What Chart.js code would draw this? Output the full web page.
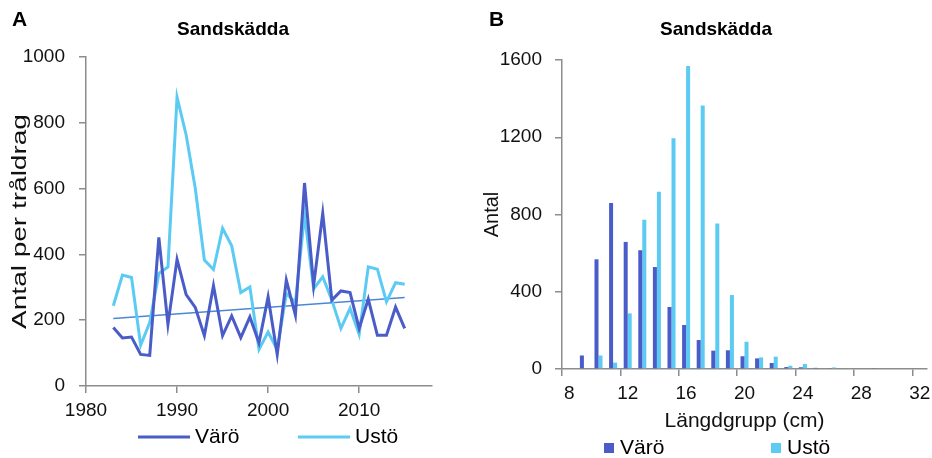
<!DOCTYPE html>
<html>
<head>
<meta charset="utf-8">
<script src="https://cdn.jsdelivr.net/npm/chart.js@4"></script>
<style>
  body { margin: 0; background: #fff; }
  .row { display: flex; width: 932px; height: 458px; }
</style>
</head>
<body>
<div class="row">
  <canvas id="trendChart" width="466" height="458"></canvas>
  <canvas id="lengthChart" width="466" height="458"></canvas>
</div>
<script>
// A: catch per haul by year
const years = [1983, 1984, 1985, 1986, 1987, 1988, 1989, 1990, 1991, 1992, 1993,
  1994, 1995, 1996, 1997, 1998, 1999, 2000, 2001, 2002, 2003, 2004, 2005,
  2006, 2007, 2008, 2009, 2010, 2011, 2012, 2013, 2014, 2015];
const varoCatch = [178, 146, 149, 96, 93, 452, 187, 385, 278, 239, 153,
  305, 153, 213, 147, 210, 131, 271, 96, 322, 215, 617, 306,
  525, 261, 289, 284, 175, 264, 154, 154, 240, 175];
const ustoCatch = [244, 337, 330, 124, 193, 342, 362, 878, 763, 601, 383,
  354, 479, 426, 284, 301, 111, 164, 111, 281, 254, 520, 295,
  332, 261, 175, 236, 157, 362, 355, 256, 314, 309];
const trendYears = [1983, 2015];
const trendValues = [205, 269];

// B: numbers per length group
const lengthGroups = ['8', '9', '10', '11', '12', '13', '14', '15', '16', '17', '18',
  '19', '20', '21', '22', '23', '24', '25', '26', '27', '28', '29', '30', '31', '32'];
const varoLengths = [0, 70, 568, 860, 658, 615, 528, 321, 228, 150, 95,
  97, 66, 55, 31, 10, 9, 6, 3, 0, 0, 3, 0, 0, 0];
const ustoLengths = [0, 0, 70, 33, 288, 773, 918, 1195, 1569, 1364, 754,
  383, 141, 60, 64, 17, 26, 0, 8, 3, 0, 0, 0, 0, 0];

const VARO = '#4a5cc7';
const USTO = '#5ccbf3';
const TREND = '#4a87d7';
const AXIS = '#8c8c8c';
const FONT = "'Liberation Sans', Arial, sans-serif";

Chart.defaults.font.family = FONT;
Chart.defaults.color = '#111';
Chart.defaults.animation = false;

// panel letter, title, optional wide y title and the legend row under the plot
const panelText = {
  id: 'panelText',
  afterDraw(chart, args, opts) {
    const ctx = chart.ctx;
    ctx.save();
    ctx.fillStyle = '#000';
    ctx.textBaseline = 'middle';
    ctx.textAlign = 'left';
    ctx.font = `bold 21px ${FONT}`;
    ctx.fillText(opts.letter, opts.letterX, 20);
    ctx.textAlign = 'center';
    ctx.font = `bold 19px ${FONT}`;
    ctx.fillText(opts.title, opts.titleX, 30);

    if (opts.yTitle) {
      const a = chart.chartArea;
      ctx.save();
      ctx.translate(opts.yTitle.x, (a.top + a.bottom) / 2);
      ctx.rotate(-Math.PI / 2);
      ctx.scale(opts.yTitle.stretch, 1);
      ctx.font = `20px ${FONT}`;
      ctx.fillStyle = '#111';
      ctx.fillText(opts.yTitle.text, 0, 0);
      ctx.restore();
    }

    ctx.textAlign = 'left';
    ctx.font = `21px ${FONT}`;
    opts.legend.forEach(item => {
      const ds = chart.data.datasets[item.dataset];
      const y = opts.legendY;
      if (opts.legendStyle === 'line') {
        ctx.strokeStyle = ds.borderColor;
        ctx.lineWidth = 3;
        ctx.beginPath();
        ctx.moveTo(item.x, y);
        ctx.lineTo(item.x + 52, y);
        ctx.stroke();
        ctx.fillStyle = '#000';
        ctx.fillText(ds.label, item.x + 57, y);
      } else {
        ctx.fillStyle = ds.backgroundColor;
        ctx.fillRect(item.x, y - 5, 10, 10);
        ctx.fillStyle = '#000';
        ctx.fillText(ds.label, item.x + 16, y);
      }
    });
    ctx.restore();
  }
};

function axisGrid() {
  return { drawOnChartArea: false, tickLength: 7, color: AXIS, lineWidth: 1.5 };
}

new Chart(document.getElementById('trendChart'), {
  type: 'line',
  data: {
    datasets: [
      {
        label: 'Värö',
        data: years.map((y, i) => ({ x: y, y: varoCatch[i] })),
        borderColor: VARO,
        borderWidth: 3,
        pointRadius: 0
      },
      {
        label: 'Ustö',
        data: years.map((y, i) => ({ x: y, y: ustoCatch[i] })),
        borderColor: USTO,
        borderWidth: 3,
        pointRadius: 0
      },
      {
        label: 'Trend',
        data: trendYears.map((y, i) => ({ x: y, y: trendValues[i] })),
        borderColor: TREND,
        borderWidth: 1.5,
        pointRadius: 0
      }
    ]
  },
  options: {
    responsive: false,
    layout: { padding: { top: 57, right: 34, left: 0, bottom: 0 } },
    plugins: {
      legend: { display: false },
      tooltip: { enabled: false },
      panelText: {
        letter: 'A', letterX: 12,
        title: 'Sandskädda', titleX: 233,
        yTitle: { text: 'Antal per tråldrag', x: 20, stretch: 1.4 },
        legendStyle: 'line', legendY: 437,
        legend: [{ dataset: 0, x: 138 }, { dataset: 1, x: 298 }]
      }
    },
    scales: {
      x: {
        type: 'linear',
        min: 1980,
        max: 2018,
        ticks: { stepSize: 10, padding: 6, font: { size: 19 }, color: '#111',
          callback: v => String(v) },
        afterBuildTicks: s => { s.ticks = s.ticks.filter(t => t.value % 10 === 0); },
        grid: axisGrid(),
        border: { color: AXIS, width: 1.5 },
        afterFit: s => { s.height = 72; s.paddingLeft = 0; s.paddingRight = 0; }
      },
      y: {
        min: 0,
        max: 1000,
        ticks: { stepSize: 200, padding: 14, font: { size: 19 }, color: '#111',
          callback: v => String(v) },
        grid: axisGrid(),
        border: { color: AXIS, width: 1.5 },
        afterFit: s => { s.width = 86; }
      }
    }
  },
  plugins: [panelText]
});

new Chart(document.getElementById('lengthChart'), {
  type: 'bar',
  data: {
    labels: lengthGroups,
    datasets: [
      { label: 'Värö', data: varoLengths, backgroundColor: VARO,
        barPercentage: 1, categoryPercentage: 0.55 },
      { label: 'Ustö', data: ustoLengths, backgroundColor: USTO,
        barPercentage: 1, categoryPercentage: 0.55 }
    ]
  },
  options: {
    responsive: false,
    layout: { padding: { top: 60, right: 5, left: 0, bottom: 0 } },
    plugins: {
      legend: { display: false },
      tooltip: { enabled: false },
      panelText: {
        letter: 'B', letterX: 23,
        title: 'Sandskädda', titleX: 250,
        legendStyle: 'box', legendY: 448,
        legend: [{ dataset: 0, x: 138 }, { dataset: 1, x: 305 }]
      }
    },
    scales: {
      x: {
        ticks: {
          autoSkip: false, maxRotation: 0, padding: 6,
          font: { size: 19 }, color: '#111',
          callback: (v, i) => (i % 4 === 0 ? lengthGroups[i] : '')
        },
        grid: {
          drawOnChartArea: false, tickLength: 7, lineWidth: 1.5, offset: true,
          color: c => (c.index % 4 === 0 ? AXIS : 'rgba(0,0,0,0)')
        },
        border: { color: AXIS, width: 1.5 },
        title: { display: true, text: 'Längdgrupp (cm)', font: { size: 21 },
          color: '#111', padding: { top: 0, bottom: 24 } },
        afterFit: s => { s.height = 89; s.paddingLeft = 0; s.paddingRight = 0; }
      },
      y: {
        min: 0,
        max: 1600,
        ticks: { stepSize: 400, padding: 13, font: { size: 19 }, color: '#111',
          callback: v => String(v) },
        grid: axisGrid(),
        border: { color: AXIS, width: 1.5 },
        title: { display: true, text: 'Antal', font: { size: 20 },
          color: '#111', padding: { top: 14, bottom: 0 } },
        afterFit: s => { s.width = 96; }
      }
    }
  },
  plugins: [panelText]
});
</script>
</body>
</html>
